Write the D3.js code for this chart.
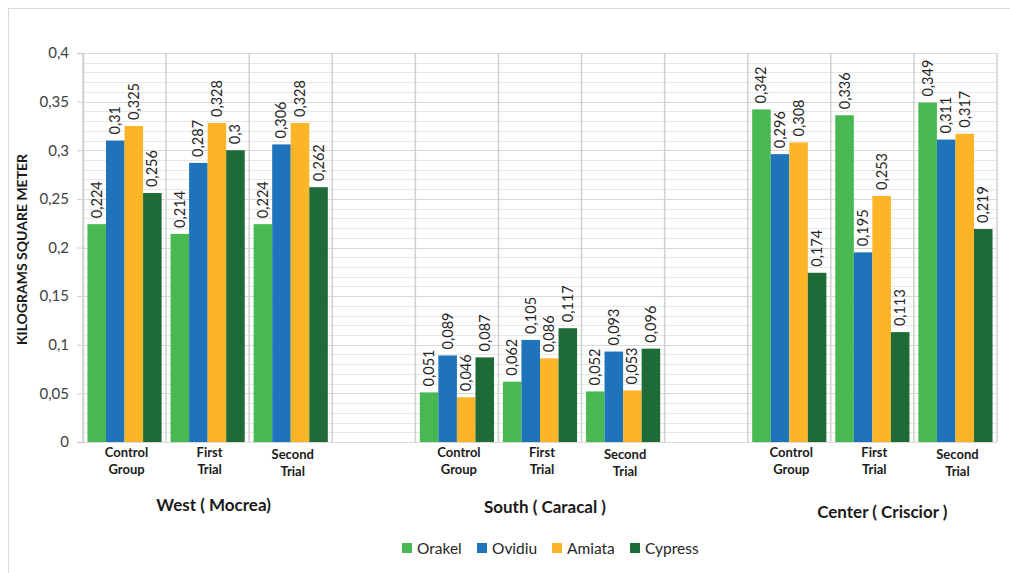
<!DOCTYPE html>
<html>
<head>
<meta charset="utf-8">
<script src="https://cdn.jsdelivr.net/npm/d3@7"></script>
<style>
  html, body { margin: 0; padding: 0; background: #fff; }
  svg { display: block; font-family: Lato, "Open Sans", sans-serif; }
</style>
</head>
<body>
<svg id="chart" width="1010" height="573"></svg>
<script>
// Sites and trials
const regions = ["West ( Mocrea)", "South ( Caracal )", "Center ( Criscior )"];
const trials = [["Control", "Group"], ["First", "Trial"], ["Second", "Trial"]];
const varieties = ["Orakel", "Ovidiu", "Amiata", "Cypress"];
const colors = ["#47b852", "#1f73ba", "#fbb527", "#1e6b37"];

// Values per variety, in order: West (C, F, S), South (C, F, S), Center (C, F, S)
const orakel  = [0.224, 0.214, 0.224, 0.051, 0.062, 0.052, 0.342, 0.336, 0.349];
const ovidiu  = [0.310, 0.287, 0.306, 0.089, 0.105, 0.093, 0.296, 0.195, 0.311];
const amiata  = [0.325, 0.328, 0.328, 0.046, 0.086, 0.053, 0.308, 0.253, 0.317];
const cypress = [0.256, 0.300, 0.262, 0.087, 0.117, 0.096, 0.174, 0.113, 0.219];

const yTicks = [0, 0.05, 0.1, 0.15, 0.2, 0.25, 0.3, 0.35, 0.4];
const yTitle = "KILOGRAMS SQUARE METER";

const series = [orakel, ovidiu, amiata, cypress];
const fmt = v => String(+v.toFixed(3)).replace(".", ",");

const svg = d3.select("#chart");

// Outer chart frame
svg.append("rect")
  .attr("x", 8.5).attr("y", 8.5)
  .attr("width", 1020).attr("height", 580)
  .attr("fill", "none").attr("stroke", "#d9d9d9").attr("stroke-width", 1);

const plotLeft = 83, plotRight = 997, plotTop = 53, plotBottom = 442;

// 11 slots: 3 trials per region, an empty slot between regions
const slots = [];
regions.forEach((r, ri) => {
  trials.forEach((t, ti) => slots.push({ key: `${ri}-${ti}`, ri, ti, idx: ri * 3 + ti }));
  if (ri < regions.length - 1) slots.push({ key: `gap-${ri}`, gap: true });
});

const x = d3.scaleBand().domain(slots.map(s => s.key)).range([plotLeft, plotRight]).paddingInner(0).paddingOuter(0);
const xInner = d3.scaleBand().domain(varieties).range([0, x.bandwidth()]).paddingOuter(0.24).paddingInner(0);
const y = d3.scaleLinear().domain([0, 0.4]).range([plotBottom, plotTop]);

// Minor grid every 0.01
const g = svg.append("g");
g.selectAll("line.minor")
  .data(d3.range(0, 41).map(i => i / 100))
  .join("line")
  .attr("x1", plotLeft).attr("x2", plotRight)
  .attr("y1", d => Math.round(y(d)) + 0.5).attr("y2", d => Math.round(y(d)) + 0.5)
  .attr("stroke", d => yTicks.some(t => Math.abs(t - d) < 1e-9) ? "#d9d9d9" : "#e8e8e8")
  .attr("stroke-width", 1);

// Slot separators
const edges = [plotLeft, ...slots.map(s => x(s.key) + x.bandwidth())];
g.selectAll("line.sep")
  .data(edges)
  .join("line")
  .attr("x1", d => d).attr("x2", d => d)
  .attr("y1", plotTop).attr("y2", plotBottom)
  .attr("stroke", "#d0d0d0").attr("stroke-width", 1.5);

// Y axis
const yAxis = svg.append("g")
  .attr("transform", `translate(${plotLeft},0)`)
  .call(d3.axisLeft(y).tickValues(yTicks).tickFormat(fmt).tickSize(6).tickPadding(8));
yAxis.select(".domain").attr("stroke", "#d0d0d0").attr("stroke-width", 1.5);
yAxis.selectAll(".tick line").attr("stroke", "#d0d0d0");
yAxis.selectAll(".tick text")
  .attr("font-size", 15).attr("fill", "#404040")
  .attr("font-family", "Lato, sans-serif");

// Bars and value labels
const dataSlots = slots.filter(s => !s.gap);
const groups = svg.append("g").selectAll("g.slot")
  .data(dataSlots)
  .join("g")
  .attr("transform", s => `translate(${x(s.key)},0)`);

const barData = s => varieties.map((v, vi) => ({ v, vi, value: series[vi][s.idx] }));

groups.selectAll("rect")
  .data(barData)
  .join("rect")
  .attr("x", d => xInner(d.v))
  .attr("width", xInner.bandwidth())
  .attr("y", d => y(d.value))
  .attr("height", d => y(0) - y(d.value))
  .attr("fill", d => colors[d.vi]);

groups.selectAll("text.val")
  .data(barData)
  .join("text")
  .attr("class", "val")
  .attr("transform", d => `translate(${xInner(d.v) + xInner.bandwidth() / 2 + 5},${y(d.value) - 6}) rotate(-90)`)
  .attr("text-anchor", "start")
  .attr("font-size", 14.5)
  .attr("fill", "#262626")
  .text(d => fmt(d.value));

// Trial labels
groups.each(function (s) {
  const t = d3.select(this).append("text")
    .attr("text-anchor", "middle")
    .attr("font-size", 13).attr("font-weight", "bold").attr("fill", "#1a1a1a");
  const lines = trials[s.ti];
  const off = s.ti === 2 ? 2 : 0;
  lines.forEach((ln, li) => {
    t.append("tspan")
      .attr("x", x.bandwidth() / 2 + 2)
      .attr("y", 457 + off + li * 17)
      .text(ln);
  });
});

// Region labels
const regionY = [511, 513, 518];
svg.append("g").selectAll("text")
  .data(regions)
  .join("text")
  .attr("x", (r, ri) => {
    const a = x(`${ri}-0`), b = x(`${ri}-2`) + x.bandwidth();
    return (a + b) / 2 + [6, 5, 10][ri];
  })
  .attr("y", (r, ri) => regionY[ri])
  .attr("text-anchor", "middle")
  .attr("font-size", 17).attr("font-weight", "bold").attr("fill", "#1a1a1a")
  .text(r => r);

// Y axis title
svg.append("text")
  .attr("transform", `translate(27,${(plotTop + plotBottom) / 2 + 2}) rotate(-90)`)
  .attr("text-anchor", "middle")
  .attr("font-size", 14).attr("font-weight", "bold").attr("fill", "#1a1a1a")
  .text(yTitle);

// Legend
const legendX = [402, 477, 552, 630];
const legend = svg.append("g").selectAll("g")
  .data(varieties)
  .join("g")
  .attr("transform", (d, i) => `translate(${legendX[i]},543)`);
legend.append("rect").attr("width", 10).attr("height", 10).attr("fill", (d, i) => colors[i]);
legend.append("text")
  .attr("x", 15).attr("y", 10.5)
  .attr("font-size", 15.5).attr("fill", "#262626")
  .text(d => d);
</script>
</body>
</html>
